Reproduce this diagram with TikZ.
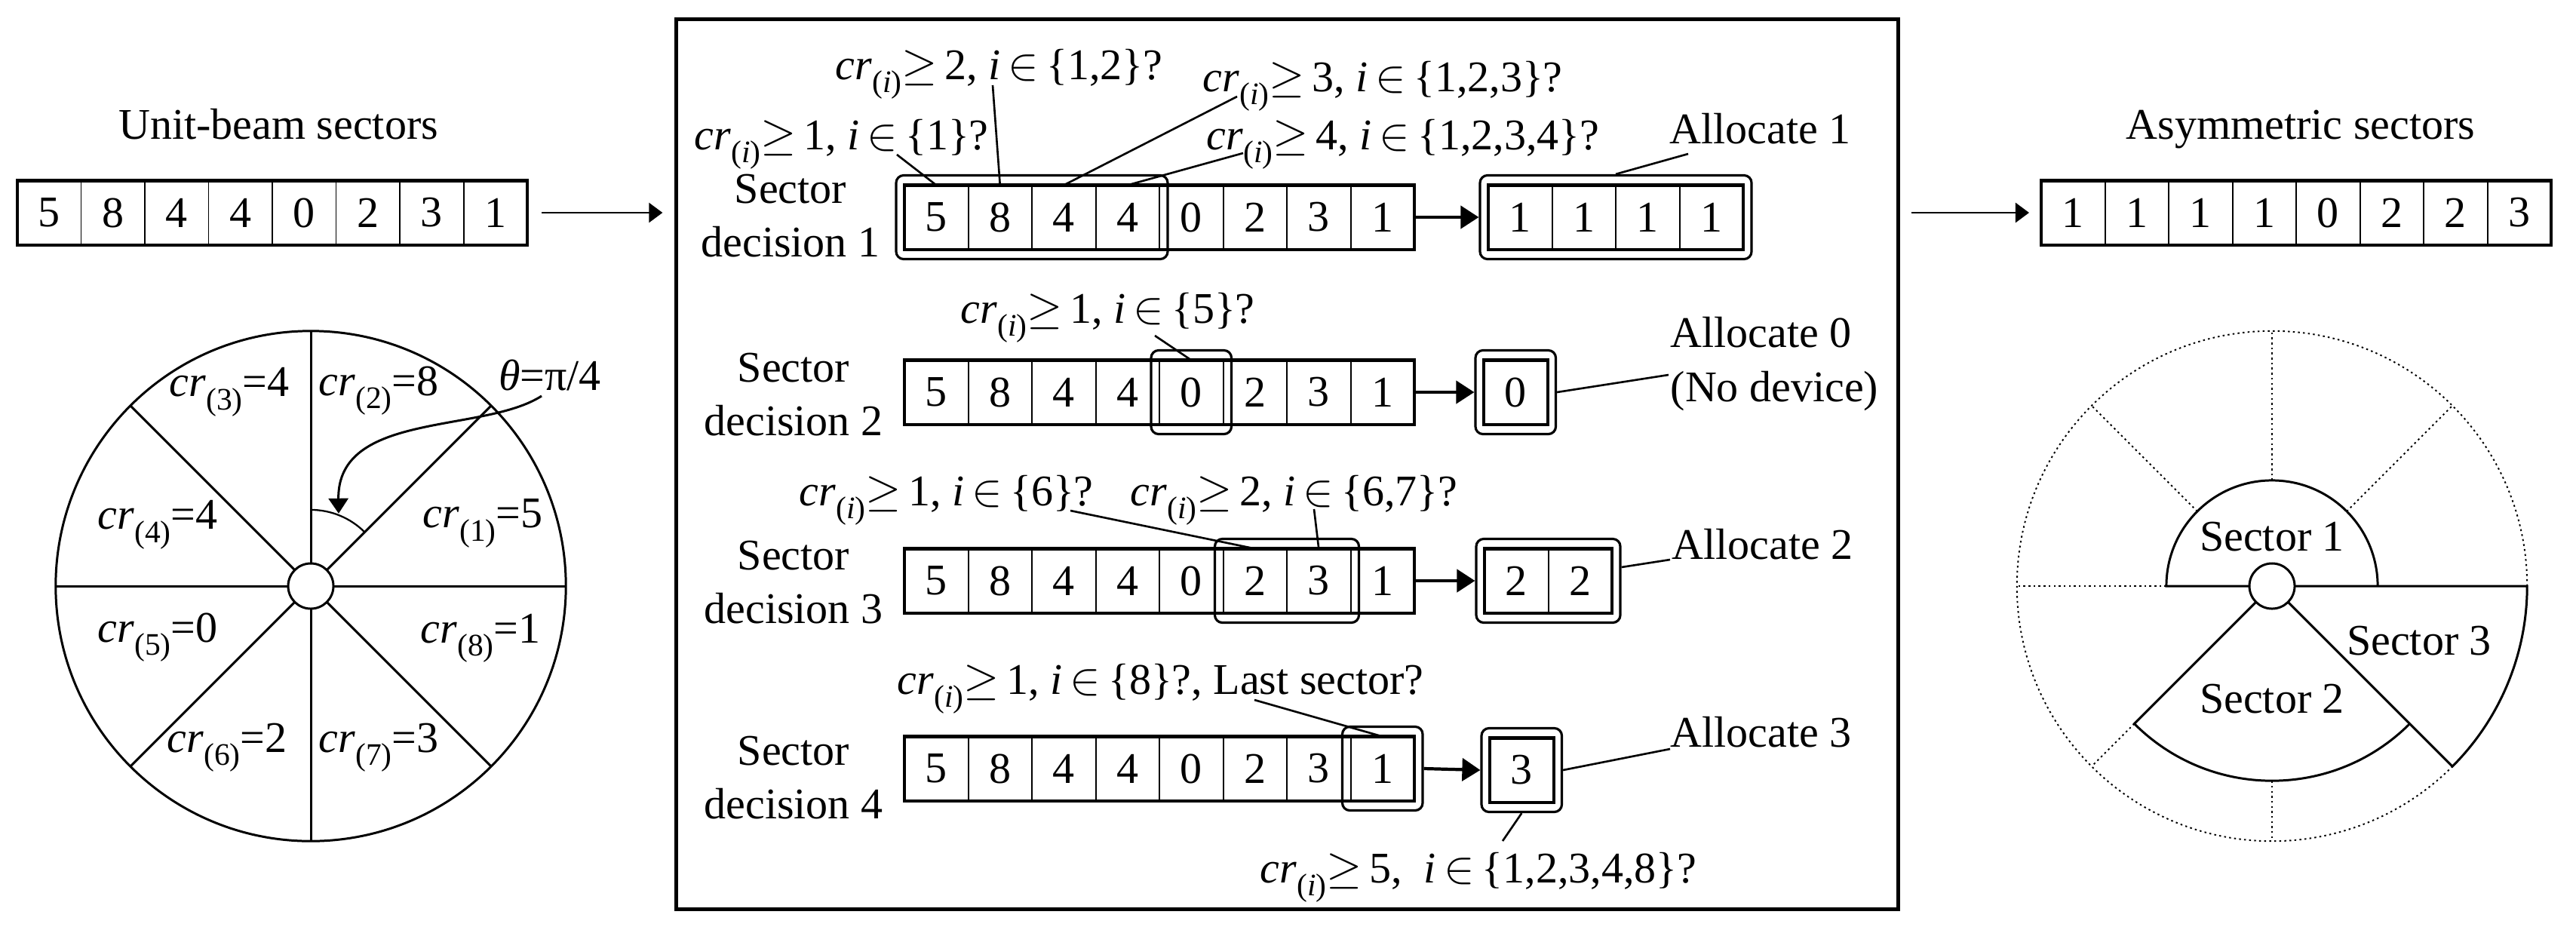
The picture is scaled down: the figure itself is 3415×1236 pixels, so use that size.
\documentclass[tikz,border=0pt]{standalone}
\usepackage{fontspec}
\setmainfont{Liberation Serif}
\usetikzlibrary{arrows.meta,fit,calc}
\newcommand{\sbx}[1]{\raisebox{-0.3em}{\fontsize{11.8}{12}\selectfont #1}}
\newcommand{\cri}{\textit{cr}\sbx{(\textit{i})}}
\newcommand{\crk}[1]{\textit{cr}\sbx{(#1)}}
\newcommand{\qst}[2]{\cri$\geq$\,#1, \textit{i}$\,\in\,$\{#2\}?}
\newcommand{\cellrow}[5]{%
  \foreach \v [count=\k] in {#4} {\node[cell] (#1\k) at ({#2+84.5*(\k-0.5)},#3) {\v};}
  \draw[outline] (#11.north west) rectangle (#1#5.south east);}
\begin{document}
\begin{tikzpicture}[x=0.01cm,y=-0.01cm,
  txt/.style={font=\fontsize{16.5}{20}\selectfont, inner sep=0pt},
  cell/.style={draw, line width=0.55pt, minimum width=0.845cm, minimum height=0.85cm, inner sep=0pt, outer sep=0pt, font=\fontsize{16.5}{20}\selectfont},
  outline/.style={draw, line width=1.15pt},
  hl/.style={draw, line width=0.9pt, rounded corners=0.1cm, inner xsep=0.11cm, inner ysep=0.13cm},
  lead/.style={line width=0.75pt},
  arr/.style={line width=1.2pt, -{Triangle[length=0.24cm, width=0.3cm]}},
  sidearr/.style={line width=0.75pt, -{Triangle[length=0.18cm, width=0.26cm]}},
  wheel/.style={line width=0.85pt},
  dots/.style={line width=0.55pt, dash pattern=on 0.7pt off 1.2pt}]
\useasboundingbox (0,0) rectangle (3415,1236);
\fill[white] (0,0) rectangle (3415,1236);

% frame
\node[draw, line width=1.25pt, minimum width=16.19cm, minimum height=11.79cm, inner sep=0pt] (frame) at (1706.5,615.5) {};

% titles
\node[txt, anchor=base] (t1) at (369,184) {Unit-beam sectors};
\node[txt, anchor=base] (t2) at (3050,184) {Asymmetric sectors};

% side arrays
\cellrow{LA}{23}{282}{5,8,4,4,0,2,3,1}{8}
\cellrow{RA}{2706}{282}{1,1,1,1,0,2,2,3}{8}
\coordinate (la) at (frame.west |- LA8.east);
\draw[sidearr] ([xshift=0.19cm]LA8.east) -- ([xshift=-0.16cm]la);
\coordinate (ra) at (frame.east |- RA1.west);
\draw[sidearr] ([xshift=0.15cm]ra) -- ([xshift=-0.16cm]RA1.west);

% rows
\cellrow{PA}{1199}{288}{5,8,4,4,0,2,3,1}{8}
\cellrow{PB}{1199}{520}{5,8,4,4,0,2,3,1}{8}
\cellrow{PC}{1199}{770}{5,8,4,4,0,2,3,1}{8}
\cellrow{PD}{1199}{1019}{5,8,4,4,0,2,3,1}{8}
\cellrow{QA}{1973}{288}{1,1,1,1}{4}
\cellrow{QB}{1967}{520}{0}{1}
\cellrow{QC}{1968}{770}{2,2}{2}
\cellrow{QD}{1975}{1021}{3}{1}

\node[hl, fit=(PA1)(PA4)] (HA) {};
\node[hl, fit=(QA1)(QA4)] (GA) {};
\node[hl, fit=(PB5)] (HB) {};
\node[hl, fit=(QB1)] (GB) {};
\node[hl, fit=(PC6)(PC7)] (HC) {};
\node[hl, fit=(QC1)(QC2)] (GC) {};
\node[hl, fit=(PD8)] (HD) {};
\node[hl, fit=(QD1)] (GD) {};

\draw[arr] (PA8.east) -- (GA.west);
\draw[arr] (PB8.east) -- (GB.west);
\draw[arr] (PC8.east) -- (GC.west);
\draw[arr] (HD.east) -- (GD.west);

% row labels
\node[txt, align=center] (sd1) at (1048,286) {Sector\\decision 1};
\node[txt, align=center] (sd2) at (1052,523) {Sector\\decision 2};
\node[txt, align=center] (sd3) at (1052,772) {Sector\\decision 3};
\node[txt, align=center] (sd4) at (1052,1031) {Sector\\decision 4};

\node[txt, anchor=base west] (al1) at (2213,190) {Allocate 1};
\node[txt, anchor=base west] (al0) at (2214,460) {Allocate 0};
\node[txt, anchor=base west] (nd) at (2214,532) {(No device)};
\node[txt, anchor=base west] (al2) at (2216,741) {Allocate 2};
\node[txt, anchor=base west] (al3) at (2214,990) {Allocate 3};

\node[txt, anchor=base west] (q1) at (920,198) {\qst{1}{1}};
\node[txt, anchor=base west] (q2) at (1107,105) {\qst{2}{1,2}};
\node[txt, anchor=base west] (q3) at (1594,121) {\qst{3}{1,2,3}};
\node[txt, anchor=base west] (q4) at (1599,198) {\qst{4}{1,2,3,4}};
\node[txt, anchor=base west] (q5) at (1273,428) {\qst{1}{5}};
\node[txt, anchor=base west] (q6) at (1059,670) {\qst{1}{6}};
\node[txt, anchor=base west] (q7) at (1498,670) {\qst{2}{6,7}};
\node[txt, anchor=base west] (q8) at (1189,920) {\qst{1}{8}, Last sector?};
\node[txt, anchor=base west] (q9) at (1670,1170) {\cri$\geq$\,5, \ \textit{i}$\,\in\,$\{1,2,3,4,8\}?};

% leaders
\coordinate (q1e) at (1189,205); \draw[lead] (q1e) -- (PA1.north);
\coordinate (q2e) at (1316,113); \draw[lead] (q2e) -- (PA2.north);
\coordinate (q3e) at (1640,128); \draw[lead] (q3e) -- (PA3.north);
\coordinate (q4e) at (1648,203); \draw[lead] (q4e) -- (PA4.north);
\coordinate (al1e) at (2238,204); \draw[lead] (al1e) -- (GA.north);
\coordinate (q5e) at (1531,445); \draw[lead] (q5e) -- (PB5.north);
\coordinate (al0e) at (2212,497); \draw[lead] (GB.east) -- (al0e);
\coordinate (q6e) at (1419,677); \draw[lead] (q6e) -- (PC6.north);
\coordinate (q7e) at (1742,675); \draw[lead] (q7e) -- (PC7.north);
\coordinate (al2e) at (2214,742); \draw[lead] ([yshift=0.18cm]GC.east) -- (al2e);
\coordinate (q8e) at (1663,928); \draw[lead] (q8e) -- (PD8.north);
\coordinate (al3e) at (2214,993); \draw[lead] (GD.east) -- (al3e);
\coordinate (q9e) at (1992,1115); \draw[lead] (GD.south) -- (q9e);

% left wheel
\coordinate (C1) at (412,777);
\node[draw, circle, wheel, minimum size=0.6cm, inner sep=0pt] (hub1) at (C1) {};
\draw[wheel] (C1) circle[radius=3.38cm];
\foreach \a in {0,45,...,315} \draw[wheel] ($(C1)+(\a:0.3cm)$) -- ($(C1)+(\a:3.38cm)$);
\draw[line width=0.65pt] ($(C1)+(90:1.01cm)$) arc[start angle=90, end angle=45, radius=1.01cm];
\node[txt] (c3) at (304,520) {\crk{3}=4};
\node[txt] (c2) at (502,518) {\crk{2}=8};
\node[txt] (c4) at (209,696) {\crk{4}=4};
\node[txt] (c1) at (640,694) {\crk{1}=5};
\node[txt] (c5) at (209,845) {\crk{5}=0};
\node[txt] (c8) at (637,846) {\crk{8}=1};
\node[txt] (c6) at (301,991) {\crk{6}=2};
\node[txt] (c7) at (502,991) {\crk{7}=3};
\node[txt] (th) at (729,497) {\textit{θ}=π/4};
\coordinate (ths) at (718,525);
\coordinate (thtip) at ($(C1)+(69:1.03cm)$);
\draw[wheel, -{Triangle[length=0.2cm, width=0.26cm]}] (ths) .. controls (640,575) and (447,545) .. (thtip);

% right wheel
\coordinate (C2) at (3012,777);
\draw[dots] (C2) circle[radius=3.38cm];
\foreach \a in {45,90,135,180} \draw[dots] ($(C2)+(\a:1.4cm)$) -- ($(C2)+(\a:3.38cm)$);
\foreach \a in {225,270} \draw[dots] ($(C2)+(\a:2.58cm)$) -- ($(C2)+(\a:3.38cm)$);
\node[draw, circle, wheel, minimum size=0.6cm, inner sep=0pt] (hub2) at (C2) {};
\draw[wheel] ($(C2)+(180:0.3cm)$) -- ($(C2)+(180:1.4cm)$) arc[start angle=180, end angle=0, radius=1.4cm];
\draw[wheel] ($(C2)+(225:0.3cm)$) -- ($(C2)+(225:2.58cm)$) arc[start angle=225, end angle=315, radius=2.58cm];
\draw[wheel] ($(C2)+(0:0.3cm)$) -- ($(C2)+(0:3.38cm)$) arc[start angle=0, end angle=-45, radius=3.38cm] -- ($(C2)+(315:0.3cm)$);
\node[txt] (s1) at (3012,712) {Sector 1};
\node[txt] (s2) at (3012,927) {Sector 2};
\node[txt] (s3) at (3207,850) {Sector 3};
\end{tikzpicture}
\end{document}
